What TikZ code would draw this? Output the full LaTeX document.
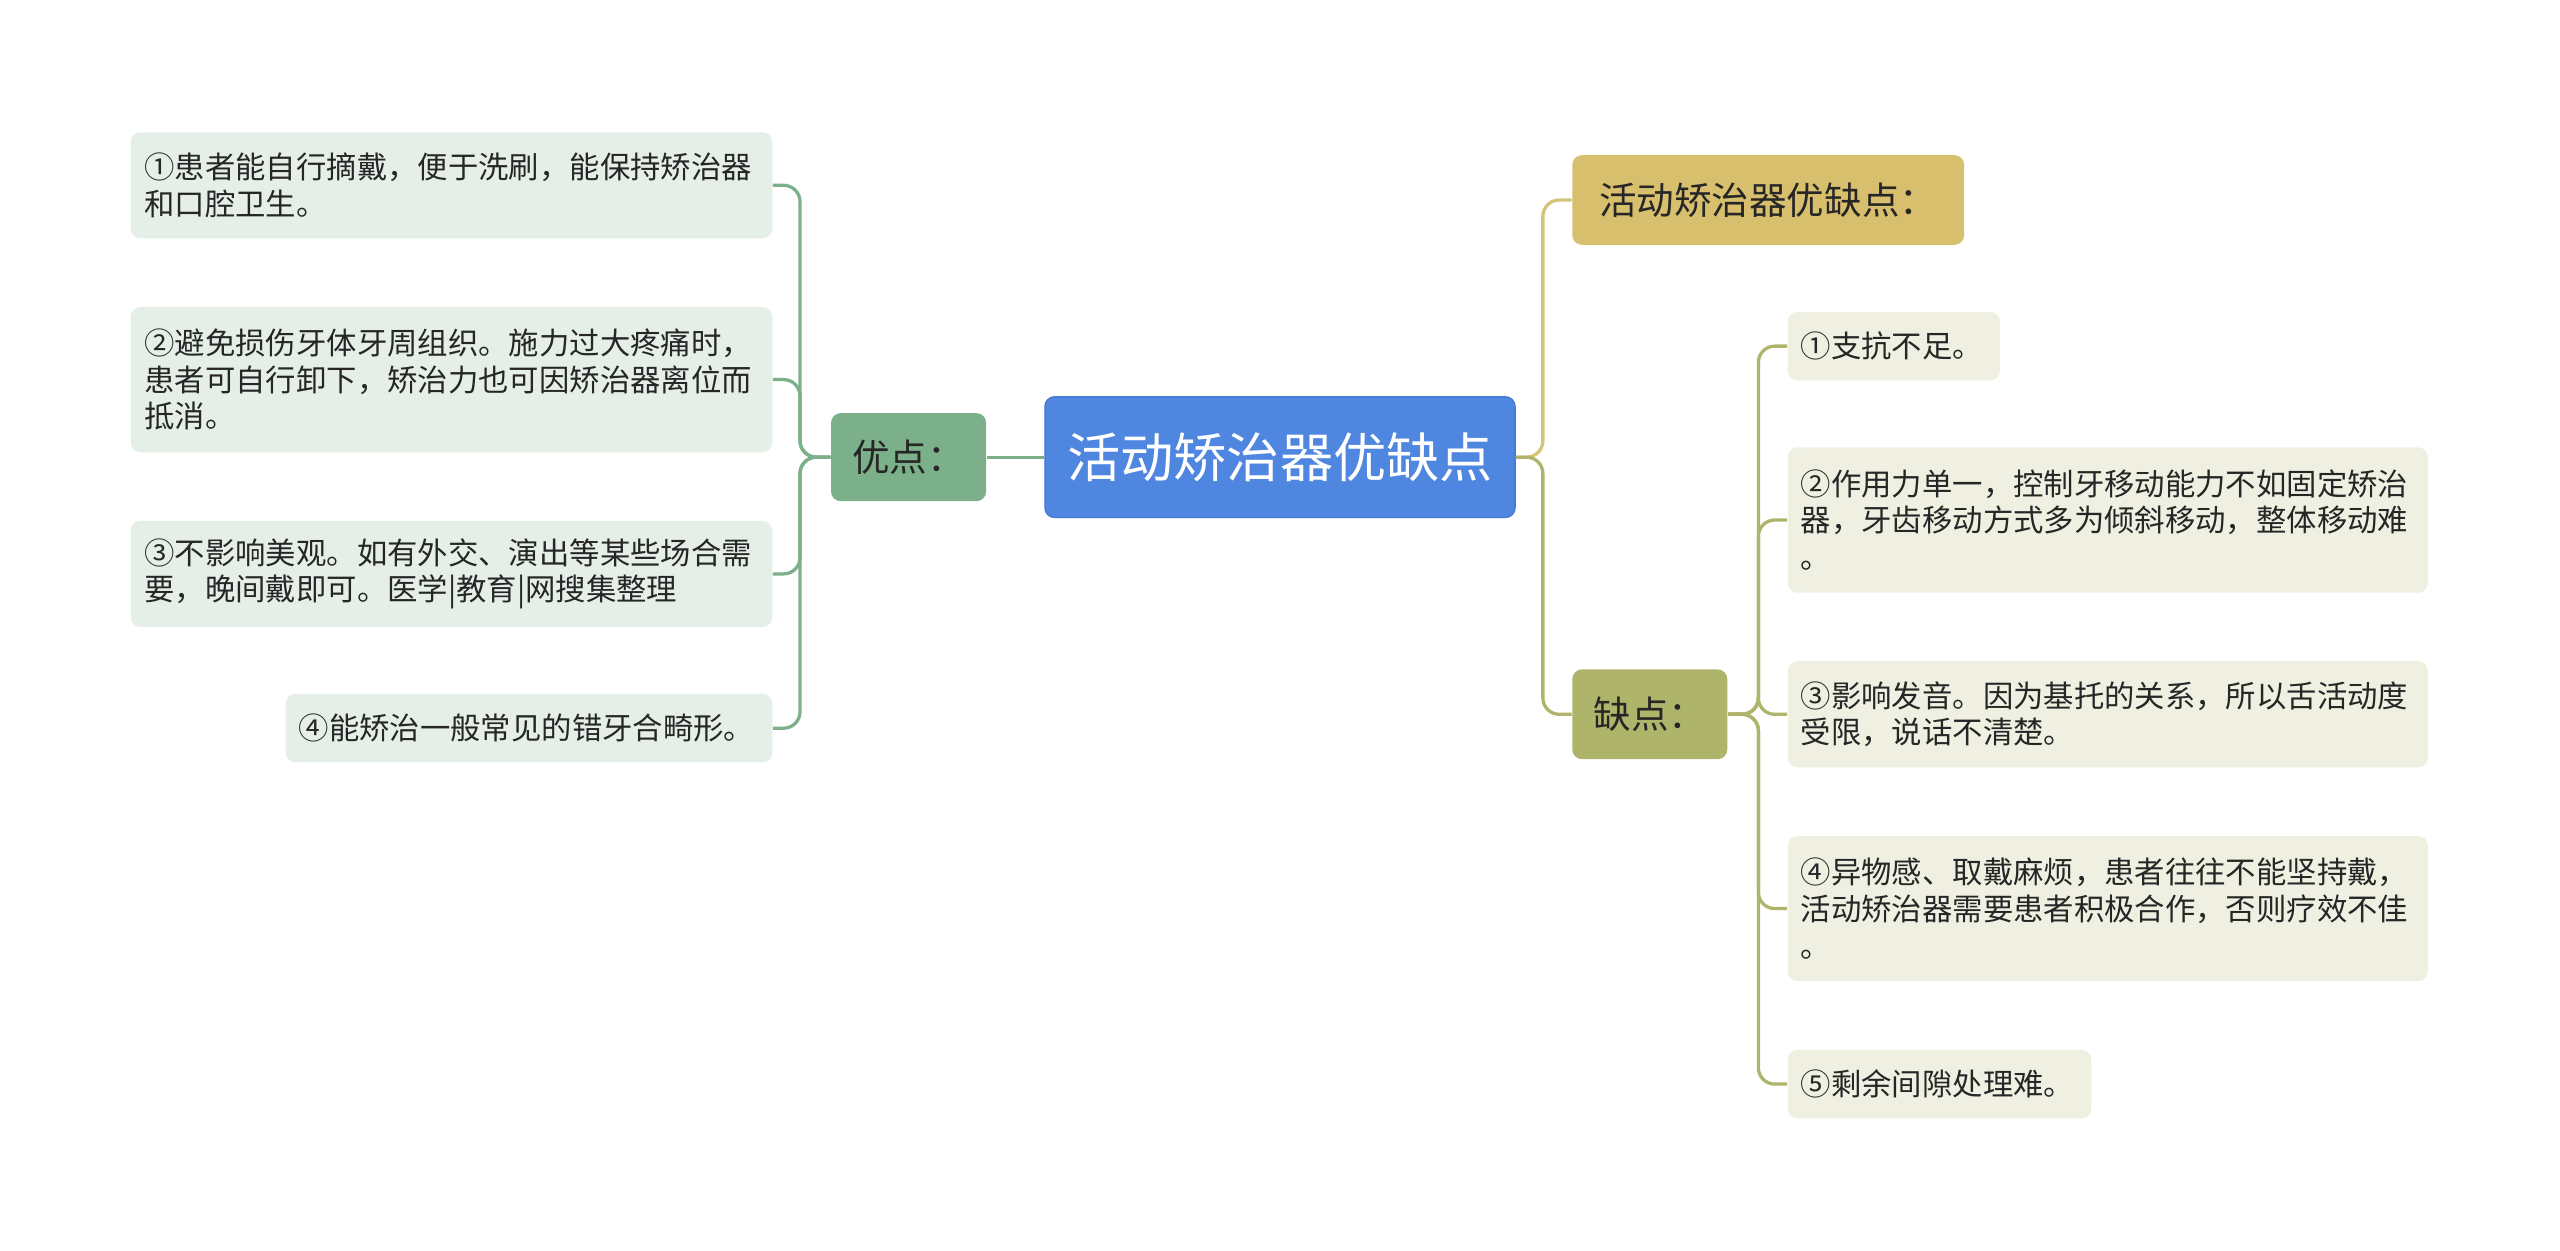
\documentclass[tikz,border=0pt]{standalone}
\usepackage{fontspec}
\setmainfont{Noto Sans CJK SC}
\begin{document}
\begin{tikzpicture}[x=0.5pt,y=-0.5pt,
 box/.style={rounded corners=3pt,inner sep=0pt,align=left,font=\fontsize{9.3}{11.2}\selectfont,text=black!85},
 lleaf/.style={box,fill=lleafc},
 rleaf/.style={box,fill=rleafc},
 gl/.style={draw=gline,line width=1pt,rounded corners=5pt},
 ol/.style={draw=oline,line width=1pt,rounded corners=5pt},
 yl/.style={draw=yline,line width=1pt,rounded corners=5pt}]
\definecolor{lleafc}{HTML}{E5EFE8}
\definecolor{rleafc}{HTML}{F0F0E2}
\definecolor{gline}{HTML}{7BB08A}
\definecolor{oline}{HTML}{AEB56A}
\definecolor{yline}{HTML}{D4C47A}
\useasboundingbox[fill=white] (0,0) rectangle (1568,766);
% center
\node[box,fill={rgb,255:red,79;green,134;blue,224},draw={rgb,255:red,70;green,120;blue,210},minimum width=144pt,minimum height=37pt,align=center,text=white,font=\fontsize{16.3}{19}\selectfont] (c) at (784,280) {活动矫治器优缺点};
% left
\node[box,fill=gline,minimum width=47.5pt,minimum height=27pt,align=center,font=\fontsize{11.5}{13}\selectfont] (y) at (556.5,280) {优点：};
\node[lleaf,minimum width=196.5pt,minimum height=32.5pt,text width=188pt] (l1) at (276.5,113.5) {①患者能自行摘戴，便于洗刷，能保持矫治器\\和口腔卫生。};
\node[lleaf,minimum width=196.5pt,minimum height=44.5pt,text width=188pt] (l2) at (276.5,232.5) {②避免损伤牙体牙周组织。施力过大疼痛时，\\患者可自行卸下，矫治力也可因矫治器离位而\\抵消。};
\node[lleaf,minimum width=196.5pt,minimum height=32.5pt,text width=188pt] (l3) at (276.5,351.5) {③不影响美观。如有外交、演出等某些场合需\\要，晚间戴即可。医学|教育|网搜集整理};
\node[lleaf,minimum width=149pt,minimum height=21pt,text width=141pt] (l4) at (324,446) {④能矫治一般常见的错牙合畸形。};
\coordinate (jl) at (490,280);
\draw[gl] (c.west) -- (y.east);
\foreach \n in {l1,l2,l3,l4} \draw[gl] (y.west) -- (jl) |- (\n.east);
% right
\node[box,fill={rgb,255:red,216;green,191;blue,110},minimum width=120pt,minimum height=27.5pt,align=center,font=\fontsize{11.5}{13}\selectfont] (h) at (1083,122.5) {活动矫治器优缺点：};
\node[box,fill=oline,minimum width=47.5pt,minimum height=27.5pt,align=center,font=\fontsize{11.5}{13}\selectfont] (q) at (1010.5,437.5) {缺点：};
\coordinate (jr) at (945,280);
\draw[yl] (c.east) -- (jr) |- (h.west);
\draw[ol] (c.east) -- (jr) |- (q.west);
\node[rleaf,minimum width=65pt,minimum height=21pt,text width=57pt] (r1) at (1160,212) {①支抗不足。};
\node[rleaf,minimum width=196pt,minimum height=44.5pt,text width=188pt] (r2) at (1291,318.5) {②作用力单一，控制牙移动能力不如固定矫治\\器，牙齿移动方式多为倾斜移动，整体移动难\\。};
\node[rleaf,minimum width=196pt,minimum height=32.5pt,text width=188pt] (r3) at (1291,437.5) {③影响发音。因为基托的关系，所以舌活动度\\受限，说话不清楚。};
\node[rleaf,minimum width=196pt,minimum height=44.5pt,text width=188pt] (r4) at (1291,556.5) {④异物感、取戴麻烦，患者往往不能坚持戴，\\活动矫治器需要患者积极合作，否则疗效不佳\\。};
\node[rleaf,minimum width=93pt,minimum height=21pt,text width=85pt] (r5) at (1188,664) {⑤剩余间隙处理难。};
\coordinate (jq) at (1077,437.5);
\foreach \n in {r1,r2,r3,r4,r5} \draw[ol] (q.east) -- (jq) |- (\n.west);
\end{tikzpicture}
\end{document}
